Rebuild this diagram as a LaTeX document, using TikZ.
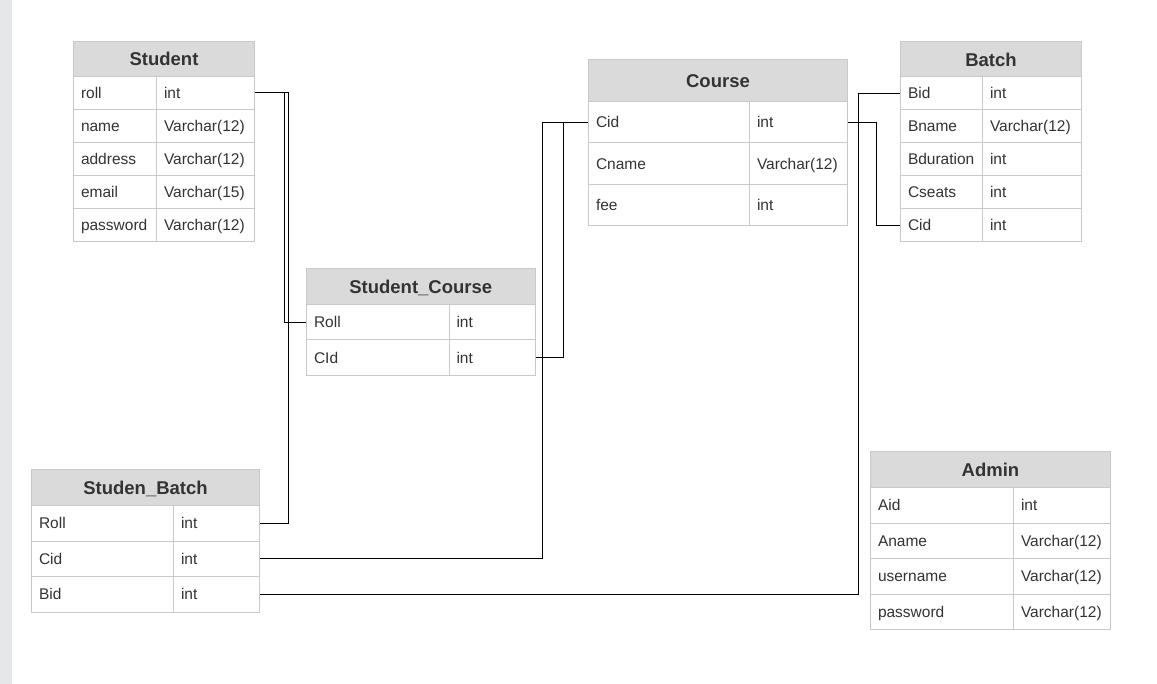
\documentclass[tikz,border=0pt]{standalone}
\usepackage{fontspec}
\setmainfont{Liberation Sans}
\usepackage{tikz}
\usetikzlibrary{positioning}

\definecolor{stripgray}{HTML}{E6E7E9}
\definecolor{headgray}{HTML}{DADADA}
\definecolor{rulegray}{HTML}{C9C9C9}
\definecolor{inkgray}{HTML}{333333}

\tikzset{
  hdr/.style={draw=rulegray, fill=headgray, line width=1pt, anchor=north west,
    inner sep=0pt, text=inkgray, font=\fontsize{18.5}{20}\selectfont\bfseries,
    text height=13.2pt, text depth=0pt},
  cell/.style={draw=rulegray, fill=white, line width=1pt, anchor=north west,
    inner xsep=7.5pt, inner ysep=0pt, align=left, text=inkgray,
    font=\fontsize{15.5}{17}\selectfont, text height=11pt, text depth=0pt},
  link/.style={draw=black, line width=1pt}
}

\begin{document}
\begin{tikzpicture}[x=1pt,y=1pt]
\useasboundingbox (0,0) rectangle (1157,-684);
\fill [stripgray] (0,0) rectangle (12,-684);
% Student
\node [hdr, minimum width=181pt, minimum height=35pt] (student) at (73,-41) {Student};
\foreach \f/\t [count=\i] in {roll/int, name/Varchar(12), address/Varchar(12), email/Varchar(15), password/Varchar(12)}{
  \node [cell, minimum height=33pt, text width=68pt] (stu-\i) at (73,{-76-33*(\i-1)}) {\f};
  \node [cell, minimum height=33pt, text width=83pt] (stu-\i-t) at (156,{-76-33*(\i-1)}) {\t};
}
% Course
\node [hdr, minimum width=259pt, minimum height=42pt] (course) at (588,-59) {Course};
\foreach \f/\t [count=\i] in {Cid/int, Cname/Varchar(12), fee/int}{
  \node [cell, minimum height=41.5pt, text width=146pt] (co-\i) at (588,{-101-41.5*(\i-1)}) {\f};
  \node [cell, minimum height=41.5pt, text width=83pt] (co-\i-t) at (749,{-101-41.5*(\i-1)}) {\t};
}
% Batch
\node [hdr, minimum width=181pt, minimum height=36pt] (batch) at (900,-41) {Batch};
\foreach \f/\t [count=\i] in {Bid/int, Bname/Varchar(12), Bduration/int, Cseats/int, Cid/int}{
  \node [cell, minimum height=33pt, text width=67pt] (ba-\i) at (900,{-76.5-33*(\i-1)}) {\f};
  \node [cell, minimum height=33pt, text width=84pt] (ba-\i-t) at (982,{-76.5-33*(\i-1)}) {\t};
}
% Student_Course
\node [hdr, minimum width=228.5pt, minimum height=36pt] (stucourse) at (306,-268) {Student\_Course};
\foreach \f/\t [count=\i] in {Roll/int, CId/int}{
  \node [cell, minimum height=35.5pt, text width=127.5pt] (sc-\i) at (306,{-304-35.5*(\i-1)}) {\f};
  \node [cell, minimum height=35.5pt, text width=71pt] (sc-\i-t) at (448.5,{-304-35.5*(\i-1)}) {\t};
}
% Studen_Batch
\node [hdr, minimum width=228pt, minimum height=36pt] (stubatch) at (31,-469) {Studen\_Batch};
\foreach \f/\t [count=\i] in {Roll/int, Cid/int, Bid/int}{
  \node [cell, minimum height=35.5pt, text width=127pt] (sb-\i) at (31,{-505-35.5*(\i-1)}) {\f};
  \node [cell, minimum height=35.5pt, text width=71pt] (sb-\i-t) at (173,{-505-35.5*(\i-1)}) {\t};
}
% Admin
\node [hdr, minimum width=240pt, minimum height=36pt] (admin) at (870,-451) {Admin};
\foreach \f/\t [count=\i] in {Aid/int, Aname/Varchar(12), username/Varchar(12), password/Varchar(12)}{
  \node [cell, minimum height=35.5pt, text width=128pt] (ad-\i) at (870,{-487-35.5*(\i-1)}) {\f};
  \node [cell, minimum height=35.5pt, text width=82pt] (ad-\i-t) at (1013,{-487-35.5*(\i-1)}) {\t};
}
% links
\draw [link] (stu-1-t.east) -- ++(29,0) |- (sc-1.west);
\draw [link] (stu-1-t.east) -- ++(33,0) |- (sb-1-t.east);
\draw [link] (co-1.west) -- ++(-25,0) |- (sc-2-t.east);
\draw [link] (co-1.west) -- ++(-46,0) |- (sb-2-t.east);
\draw [link] (co-1-t.east) -- ++(28,0) |- (ba-5.west);
\draw [link] (ba-1.west) -- ++(-42,0) |- (sb-3-t.east);
\end{tikzpicture}
\end{document}
